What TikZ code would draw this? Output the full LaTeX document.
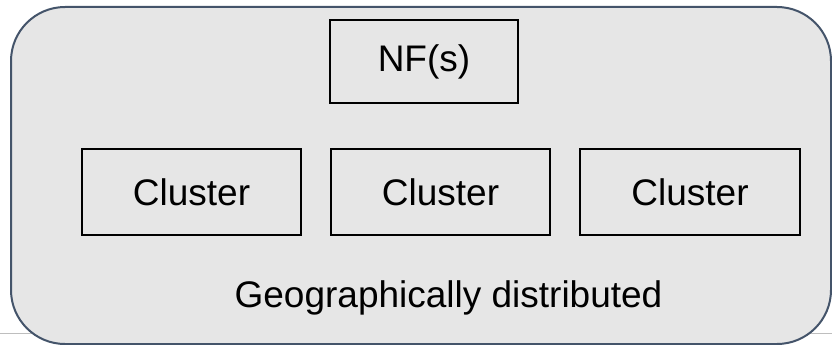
\documentclass[tikz,border=0pt]{standalone}
\usepackage{fontspec}
\setmainfont{Liberation Sans}
\usepackage{tikz}

\definecolor{PanelGray}{RGB}{230,230,230}
\definecolor{PanelEdge}{RGB}{68,84,106}
\definecolor{RuleGray}{RGB}{190,190,190}

\begin{document}
\begin{tikzpicture}[x=1pt,y=-1pt,
    box/.style={draw=black, line width=1.6pt, inner sep=0pt,
        font=\fontsize{37}{42}\selectfont},
    label/.style={font=\fontsize{37}{42}\selectfont}]
        \useasboundingbox (0,0) rectangle (832,345);

        \draw [RuleGray, line width=1pt] (0,333) -- (832,333);
        \draw [fill=PanelGray, draw=PanelEdge, line width=2pt, rounded corners=54pt]
            (11,7) rectangle (831,344);

        \node [box, minimum width=188pt, minimum height=83pt] (nf) at (424,61.5) {NF(s)};

        \node [box, minimum width=219pt, minimum height=86pt] (c1) at (191.5,192) {Cluster};
        \node [box, minimum width=219pt, minimum height=86pt] (c2) at (440.5,192) {Cluster};
        \node [box, minimum width=220pt, minimum height=86pt] (c3) at (690,192) {Cluster};

        \node [label, anchor=base] (geo) at (448.5,307) {Geographically distributed};
    \end{tikzpicture}
\end{document}
